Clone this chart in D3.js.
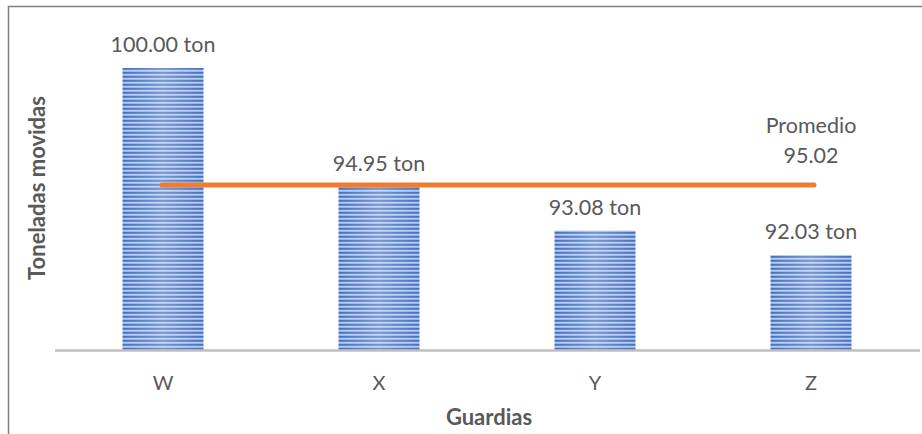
<!DOCTYPE html>
<html>
<head>
<meta charset="utf-8">
<script src="https://cdn.jsdelivr.net/npm/d3@7"></script>
<style>
  body { margin: 0; background: #fff; }
  text { font-family: Lato, "Open Sans", sans-serif; }
</style>
</head>
<body>
<div id="chart"></div>
<script>
const categories = ['W', 'X', 'Y', 'Z'];
const values = [100.00, 94.95, 93.08, 92.03];
const average = 95.02;
const valueLabels = ['100.00 ton', '94.95 ton', '93.08 ton', '92.03 ton'];
const averageLabel = ['Promedio', '95.02'];

const width = 922;
const height = 434;
const baseY = 350;
const textColor = '#595959';

const svg = d3.select('#chart').append('svg')
    .attr('width', width)
    .attr('height', height);

// stripe pattern + light center for the bars
const defs = svg.append('defs');
const pat = defs.append('pattern')
    .attr('id', 'stripes')
    .attr('patternUnits', 'userSpaceOnUse')
    .attr('width', 8)
    .attr('height', 4);
pat.append('rect').attr('width', 8).attr('height', 4).attr('fill', '#7d9ddd');
pat.append('rect').attr('y', 0).attr('width', 8).attr('height', 1.6).attr('fill', '#4472c4');
pat.append('rect').attr('y', 2.4).attr('width', 8).attr('height', 0.9).attr('fill', '#dbe4f6');

const grad = defs.append('linearGradient')
    .attr('id', 'shine')
    .attr('x1', '0%').attr('x2', '100%').attr('y1', '0%').attr('y2', '0%');
grad.append('stop').attr('offset', '0%').attr('stop-color', '#fff').attr('stop-opacity', 0);
grad.append('stop').attr('offset', '50%').attr('stop-color', '#fff').attr('stop-opacity', 0.25);
grad.append('stop').attr('offset', '100%').attr('stop-color', '#fff').attr('stop-opacity', 0);

// frame
svg.append('path')
    .attr('d', `M8.5,${height} V6.5 H${width}`)
    .attr('fill', 'none')
    .attr('stroke', '#7f7f7f')
    .attr('stroke-width', 1.5);

const x = d3.scaleBand()
    .domain(categories)
    .range([55, 919])
    .paddingInner(0.625)
    .paddingOuter(0.3125);

const y = d3.scaleLinear()
    .domain([88, 100])
    .range([baseY, 68]);

const data = categories.map((c, i) => ({ cat: c, value: values[i], label: valueLabels[i] }));

const bars = svg.append('g').attr('class', 'bars');
bars.selectAll('.bar')
    .data(data)
  .enter().append('rect')
    .attr('class', 'bar')
    .attr('x', d => x(d.cat))
    .attr('y', d => y(d.value))
    .attr('width', x.bandwidth())
    .attr('height', d => baseY - y(d.value))
    .attr('fill', 'url(#stripes)');
bars.selectAll('.shine')
    .data(data)
  .enter().append('rect')
    .attr('class', 'shine')
    .attr('x', d => x(d.cat))
    .attr('y', d => y(d.value))
    .attr('width', x.bandwidth())
    .attr('height', d => baseY - y(d.value))
    .attr('fill', 'url(#shine)');

// baseline / x axis
const xAxis = svg.append('g')
    .attr('transform', `translate(0, ${baseY})`)
    .call(d3.axisBottom(x).tickSize(0).tickPadding(26));
xAxis.select('.domain')
    .attr('d', 'M55,0.5H920')
    .attr('stroke', '#bfbfbf')
    .attr('stroke-width', 2.5);
xAxis.selectAll('text')
    .attr('fill', textColor)
    .style('font-size', '20px')
    .style('font-family', 'Lato, "Open Sans", sans-serif');

// value labels
svg.append('g').selectAll('.val')
    .data(data)
  .enter().append('text')
    .attr('class', 'val')
    .attr('x', d => x(d.cat) + x.bandwidth() / 2)
    .attr('y', d => y(d.value) - 16)
    .attr('text-anchor', 'middle')
    .attr('fill', textColor)
    .style('font-size', '21.5px')
    .text(d => d.label);

// average line
const first = data[0], last = data[data.length - 1];
svg.append('line')
    .attr('x1', x(first.cat) + x.bandwidth() / 2 - 1)
    .attr('x2', x(last.cat) + x.bandwidth() / 2 + 3)
    .attr('y1', y(average))
    .attr('y2', y(average))
    .attr('stroke', '#ed7d31')
    .attr('stroke-width', 5)
    .attr('stroke-linecap', 'round');

svg.append('g').selectAll('.avg')
    .data(averageLabel)
  .enter().append('text')
    .attr('class', 'avg')
    .attr('x', x(last.cat) + x.bandwidth() / 2)
    .attr('y', (d, i) => y(average) - 52 + i * 30)
    .attr('text-anchor', 'middle')
    .attr('fill', textColor)
    .style('font-size', '21.5px')
    .text(d => d);

// axis titles
svg.append('text')
    .attr('x', 489)
    .attr('y', 425)
    .attr('text-anchor', 'middle')
    .attr('fill', textColor)
    .style('font-size', '22px')
    .style('font-weight', 'bold')
    .text('Guardias');

svg.append('text')
    .attr('transform', 'translate(45, 188) rotate(-90)')
    .attr('text-anchor', 'middle')
    .attr('fill', textColor)
    .style('font-size', '22px')
    .style('font-weight', 'bold')
    .text('Toneladas movidas');
</script>
</body>
</html>
